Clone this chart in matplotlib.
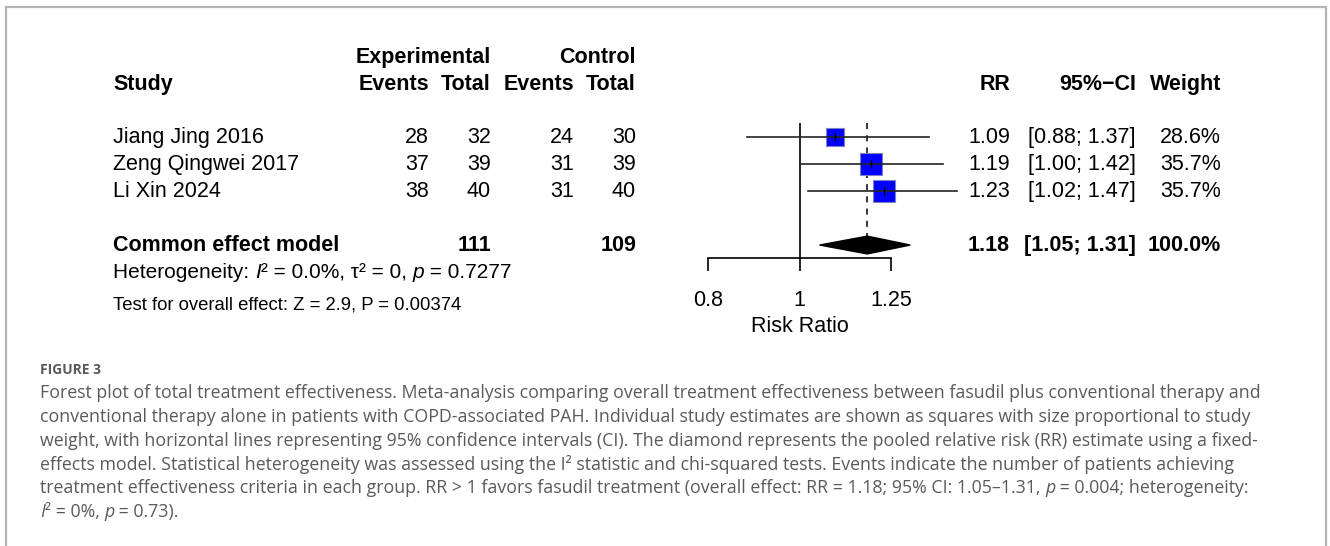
import matplotlib
matplotlib.use("Agg")
import matplotlib.pyplot as plt
import matplotlib.patches as mpatches
import matplotlib.transforms as mtransforms
from matplotlib.ticker import NullLocator
import numpy as np

# ── datos del forest plot ──────────────────────────────────
studies = ["Jiang Jing 2016", "Zeng Qingwei 2017", "Li Xin 2024"]
exp_events = [28, 37, 38]
exp_total = [32, 39, 40]
ctl_events = [24, 31, 31]
ctl_total = [30, 39, 40]
rr = [1.09, 1.19, 1.23]
ci_low = [0.88, 1.00, 1.02]
ci_high = [1.37, 1.42, 1.47]
weights = [28.6, 35.7, 35.7]

pooled_label = "Common effect model"
pooled_rr = 1.18
pooled_low = 1.05
pooled_high = 1.31
pooled_exp_total = 111
pooled_ctl_total = 109

x_ticks = [0.8, 1, 1.25]
x_ticklabels = ["0.8", "1", "1.25"]

het_runs = [("Heterogeneity: ", False), ("I", True), ("² = 0.0%, τ² = 0, ", False),
            ("p", True), (" = 0.7277", False)]
test_text = "Test for overall effect: Z = 2.9, P = 0.00374"

caption_title = "FIGURE 3"
caption_lines = [
    [("Forest plot of total treatment effectiveness. Meta-analysis comparing overall treatment "
      "effectiveness between fasudil plus conventional therapy and", False)],
    [("conventional therapy alone in patients with COPD-associated PAH. Individual study estimates "
      "are shown as squares with size proportional to study", False)],
    [("weight, with horizontal lines representing 95% confidence intervals (CI). The diamond "
      "represents the pooled relative risk (RR) estimate using a fixed-", False)],
    [("effects model. Statistical heterogeneity was assessed using the I² statistic and "
      "chi-squared tests. Events indicate the number of patients achieving", False)],
    [("treatment effectiveness criteria in each group. RR > 1 favors fasudil treatment "
      "(overall effect: RR = 1.18; 95% CI: 1.05–1.31, ", False), ("p", True),
     (" = 0.004; heterogeneity:", False)],
    [("I", True), ("² = 0%, ", False), ("p", True), (" = 0.73).", False)],
]

W, H = 1330, 546
FONT = "Liberation Sans"
FS = 15.5
CAP_FONT = "Open Sans"
CAP_COLOR = "#5a5a5a"


def fx(px):
    return px / W


def fy(py):
    return 1 - py / H


fig = plt.figure(figsize=(W / 100, H / 100), dpi=100)
fig.patch.set_facecolor("white")
renderer = fig.canvas.get_renderer()


def text_runs(x_px, y_px, runs, **props):
    # escribe segmentos con estilos distintos uno detrás del otro
    x = x_px
    for s, italic in runs:
        st = "italic" if italic else "normal"
        fig.text(fx(x), fy(y_px), s, style=st, va="center", **props)
        probe = fig.text(0, 0, s + "|", style=st, **props)
        bar = fig.text(0, 0, "|", style=st, **props)
        x += probe.get_window_extent(renderer).width - bar.get_window_extent(renderer).width
        probe.remove()
        bar.remove()


# ── marco gris ─────────────────────────────────────────────
fig.add_artist(mpatches.Rectangle((fx(6), -0.05), fx(1326) - fx(6), fy(7) + 0.05,
                                  transform=fig.transFigure, fill=False,
                                  edgecolor="#b4b4b4", linewidth=1.6))

# ── ejes del forest plot ───────────────────────────────────
ax = fig.add_axes([fx(708), fy(258), fx(891) - fx(708), (258 - 123) / H])
ax.set_xscale("log")
ax.set_xlim(x_ticks[0], x_ticks[-1])
rows = np.arange(1, len(studies) + 1)
pooled_row = rows[-1] + 2
ax.set_ylim(pooled_row + 0.48, rows[0] - 0.52)

for sp in ["top", "left", "right"]:
    ax.spines[sp].set_visible(False)
ax.spines["bottom"].set_linewidth(1.2)
ax.set_yticks([])
ax.set_xticks(x_ticks)
ax.set_xticklabels(x_ticklabels, fontsize=FS, family=FONT)
ax.xaxis.set_minor_locator(NullLocator())
ax.tick_params(axis="x", direction="out", length=9, width=1.2, pad=14)
ax.set_xlabel("Risk Ratio", fontsize=FS, family=FONT, labelpad=4)

ax.axvline(1, color="black", linewidth=1.2, zorder=2)
ax.plot([pooled_rr, pooled_rr], [rows[0] - 0.52, pooled_row - 0.33], color="black",
        linewidth=1.1, linestyle=(0, (4, 4)), zorder=2)

SQ_MAX = 15.2
for r, est, lo, hi, w in zip(rows, rr, ci_low, ci_high, weights):
    ax.plot([est], [r], marker="s", markersize=SQ_MAX * np.sqrt(w / max(weights)),
            markerfacecolor="#0000FF", markeredgecolor="#8080c0", markeredgewidth=0.8,
            linestyle="none", zorder=3, clip_on=False)
    ax.plot([lo, hi], [r, r], color="#222222", linewidth=1.2, zorder=4, clip_on=False)
    ax.plot([est], [r], marker="|", markersize=6, color="black", markeredgewidth=1.0,
            zorder=5, clip_on=False)

ax.fill([pooled_low, pooled_rr, pooled_high, pooled_rr],
        [pooled_row, pooled_row - 0.33, pooled_row, pooled_row + 0.33],
        color="black", zorder=3, clip_on=False)

# ── columnas de texto ──────────────────────────────────────
trans = mtransforms.blended_transform_factory(fig.transFigure, ax.transData)
head1 = rows[0] - 2.93
head2 = rows[0] - 1.93
bold = dict(transform=trans, fontsize=FS, family=FONT, fontweight="bold", va="center")
norm = dict(transform=trans, fontsize=FS, family=FONT, va="center")

ax.text(fx(113), head2, "Study", ha="left", **bold)
ax.text(fx(491), head1, "Experimental", ha="right", **bold)
ax.text(fx(636), head1, "Control", ha="right", **bold)
for xr, s in [(429, "Events"), (491, "Total"), (574, "Events"), (636, "Total"),
              (1010, "RR"), (1136, "95%−CI"), (1221, "Weight")]:
    ax.text(fx(xr), head2, s, ha="right", **bold)

for i, r in enumerate(rows):
    ax.text(fx(113), r, studies[i], ha="left", **norm)
    ax.text(fx(429), r, str(exp_events[i]), ha="right", **norm)
    ax.text(fx(491), r, str(exp_total[i]), ha="right", **norm)
    ax.text(fx(574), r, str(ctl_events[i]), ha="right", **norm)
    ax.text(fx(636), r, str(ctl_total[i]), ha="right", **norm)
    ax.text(fx(1010), r, f"{rr[i]:.2f}", ha="right", **norm)
    ax.text(fx(1136), r, f"[{ci_low[i]:.2f}; {ci_high[i]:.2f}]", ha="right", **norm)
    ax.text(fx(1221), r, f"{weights[i]:.1f}%", ha="right", **norm)

ax.text(fx(113), pooled_row, pooled_label, ha="left", **bold)
ax.text(fx(491), pooled_row, str(pooled_exp_total), ha="right", **bold)
ax.text(fx(636), pooled_row, str(pooled_ctl_total), ha="right", **bold)
ax.text(fx(1010), pooled_row, f"{pooled_rr:.2f}", ha="right", **bold)
ax.text(fx(1136), pooled_row, f"[{pooled_low:.2f}; {pooled_high:.2f}]", ha="right", **bold)
ax.text(fx(1221), pooled_row, f"{sum(weights):.1f}%", ha="right", **bold)

text_runs(113, 273, het_runs, fontsize=15, family=FONT, color="black")
fig.text(fx(113), fy(305), test_text, fontsize=13.3, family=FONT, va="center")

# ── pie de figura ──────────────────────────────────────────
fig.text(fx(40), fy(370), caption_title, fontsize=10, family=CAP_FONT, fontweight="bold",
         color=CAP_COLOR, va="center")
for k, runs in enumerate(caption_lines):
    text_runs(40, 393 + k * 23.8, runs, fontsize=12.8, family=CAP_FONT, color=CAP_COLOR)

fig.savefig("out.png", dpi=100, facecolor="white")
